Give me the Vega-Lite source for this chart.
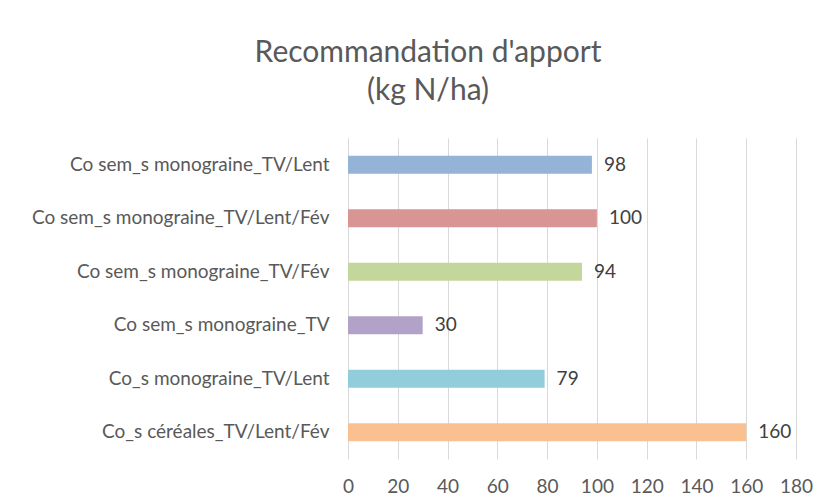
{
  "$schema": "https://vega.github.io/schema/vega-lite/v6.json",
  "autosize": "none",
  "width": 448,
  "height": 321,
  "padding": {"left": 348, "top": 138, "right": 32, "bottom": 45},
  "background": "white",
  "title": {
    "text": ["Recommandation d'apport", "(kg N/ha)"],
    "font": "Lato",
    "fontSize": 30,
    "fontWeight": "normal",
    "color": "#595959",
    "lineHeight": 38,
    "anchor": "middle",
    "dx": -144,
    "offset": 32
  },
  "data": {
    "values": [
      {"cat": "Co sem_s monograine_TV/Lent", "val": 98, "col": "#95b3d7"},
      {"cat": "Co sem_s monograine_TV/Lent/Fév", "val": 100, "col": "#d99594"},
      {"cat": "Co sem_s monograine_TV/Fév", "val": 94, "col": "#c3d69b"},
      {"cat": "Co sem_s monograine_TV", "val": 30, "col": "#b2a2c7"},
      {"cat": "Co_s monograine_TV/Lent", "val": 79, "col": "#92cddc"},
      {"cat": "Co_s céréales_TV/Lent/Fév", "val": 160, "col": "#fac090"}
    ]
  },
  "encoding": {
    "y": {
      "field": "cat",
      "type": "nominal",
      "sort": null,
      "scale": {"paddingInner": 0.66, "paddingOuter": 0.33},
      "axis": {
        "title": null,
        "domain": false,
        "ticks": false,
        "labelFont": "Lato",
        "labelFontSize": 19,
        "labelColor": "#595959",
        "labelPadding": 19,
        "labelLimit": 400
      }
    },
    "x": {
      "field": "val",
      "type": "quantitative",
      "scale": {"domain": [0, 180], "nice": false},
      "axis": {
        "title": null,
        "values": [0, 20, 40, 60, 80, 100, 120, 140, 160, 180],
        "domain": false,
        "ticks": false,
        "grid": true,
        "gridColor": "#d9d9d9",
        "gridWidth": 1,
        "labelFlush": false,
        "labelFont": "Lato",
        "labelFontSize": 19,
        "labelColor": "#595959",
        "labelPadding": 18
      }
    }
  },
  "layer": [
    {
      "mark": {"type": "bar"},
      "encoding": {
        "color": {"field": "col", "type": "nominal", "scale": null}
      }
    },
    {
      "mark": {"type": "text", "align": "left", "baseline": "middle", "dx": 12, "font": "Lato", "fontSize": 19, "color": "#404040"},
      "encoding": {"text": {"field": "val", "type": "quantitative"}}
    }
  ],
  "config": {"view": {"stroke": null}}
}
